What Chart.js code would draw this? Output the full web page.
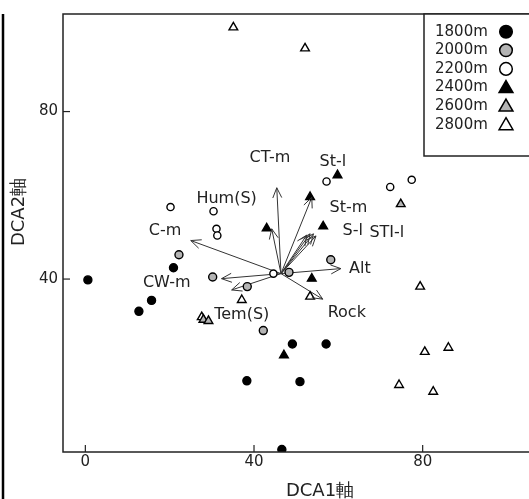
<!DOCTYPE html>
<html>
<head>
<meta charset="utf-8">
<script src="https://cdn.jsdelivr.net/npm/chart.js@4/dist/chart.umd.min.js"></script>
<style>
  body { margin: 0; overflow: hidden; background: #fff; }
  #wrap { width: 600px; height: 499px; }
</style>
</head>
<body>
<div id="wrap"><canvas id="dcaChart" width="600" height="499"></canvas></div>
<script>
// site scores, one pair of arrays per altitude class
var groups = ['1800m', '2000m', '2200m', '2400m', '2600m', '2800m'];
var x1800 = [0.6, 12.7, 15.7, 20.9, 38.3, 49.1, 57.1, 50.9, 46.6];
var y1800 = [39.8, 32.3, 34.9, 42.7, 15.7, 24.5, 24.5, 15.5, -0.7];
var x2000 = [22.2, 30.2, 38.4, 42.2, 48.3, 58.2];
var y2000 = [45.8, 40.5, 38.2, 27.7, 41.6, 44.6];
var x2200 = [20.2, 30.4, 31.1, 31.3, 44.6, 57.2, 72.3, 77.4];
var y2200 = [57.2, 56.2, 52.0, 50.4, 41.3, 63.3, 62.0, 63.7];
var x2400 = [43.0, 59.8, 53.3, 56.4, 53.7, 47.1];
var y2400 = [52.1, 64.8, 59.6, 52.6, 40.1, 21.8];
var x2600 = [28.0, 29.2, 74.8];
var y2600 = [30.3, 30.0, 57.9];
var x2800 = [35.1, 52.1, 53.3, 79.4, 80.5, 86.1, 74.4, 82.5, 27.6, 37.1];
var y2800 = [100.1, 95.1, 35.8, 38.2, 22.6, 23.6, 14.7, 13.1, 30.9, 35.0];

// environmental vectors (origin + tips)
var vecOrigin = [46.4, 41.3];
var vecTipX = [45.4, 44.2, 25.0, 32.3, 34.7, 53.7, 54.7, 54.1, 53.3, 52.5, 60.6, 56.3];
var vecTipY = [61.8, 52.0, 49.2, 40.1, 37.4, 59.5, 50.3, 50.8, 50.8, 50.5, 42.5, 35.2];

// vector labels
var labelText = ['CT-m', 'Hum(S)', 'C-m', 'CW-m', 'Tem(S)', 'St-l', 'St-m', 'S-l', 'STI-l', 'Alt', 'Rock'];
var labelX = [43.8, 33.5, 18.9, 19.3, 37.1, 58.7, 62.4, 63.4, 71.5, 65.1, 62.0];
var labelY = [68.9, 59.1, 51.4, 39.2, 31.5, 67.9, 56.9, 51.4, 51.0, 42.5, 31.9];

var xTicks = [0, 40, 80];
var yTicks = [40, 80];

var FONT = '"DejaVu Sans", Verdana, sans-serif';
var GREY = '#b4b4b4';

function pts(xs, ys) {
    return xs.map(function (v, i) { return { x: v, y: ys[i] }; });
}

var styles = [
    { pointStyle: 'circle', bg: '#000', r: 4 },
    { pointStyle: 'circle', bg: GREY, r: 4 },
    { pointStyle: 'circle', bg: '#fff', r: 3.6 },
    { pointStyle: 'triangle', bg: '#000', r: 5 },
    { pointStyle: 'triangle', bg: GREY, r: 5 },
    { pointStyle: 'triangle', bg: '#fff', r: 5 }
];
var series = [pts(x1800, y1800), pts(x2000, y2000), pts(x2200, y2200),
              pts(x2400, y2400), pts(x2600, y2600), pts(x2800, y2800)];

// arrow shafts as one line dataset with gaps
var arrowData = [];
vecTipX.forEach(function (tx, i) {
    arrowData.push({ x: vecOrigin[0], y: vecOrigin[1] });
    arrowData.push({ x: tx, y: vecTipY[i] });
    arrowData.push({ x: tx, y: null });
});

var datasets = [{
    label: 'vectors',
    data: arrowData,
    showLine: true,
    spanGaps: false,
    borderColor: '#333',
    borderWidth: 1,
    pointRadius: 0,
    order: 10
}];
groups.forEach(function (g, i) {
    datasets.push({
        label: g,
        data: series[i],
        pointStyle: styles[i].pointStyle,
        pointRadius: styles[i].r,
        pointBackgroundColor: styles[i].bg,
        pointBorderColor: '#000',
        pointBorderWidth: 1.4,
        order: 1
    });
});

var decorPlugin = {
    id: 'decor',
    afterDatasetsDraw: function (chart) {
        var ctx = chart.ctx;
        var xs = chart.scales.x, ys = chart.scales.y;
        var a = chart.chartArea;
        ctx.save();

        // arrow heads
        var ox = xs.getPixelForValue(vecOrigin[0]), oy = ys.getPixelForValue(vecOrigin[1]);
        ctx.strokeStyle = '#333';
        ctx.lineWidth = 1;
        vecTipX.forEach(function (tx, i) {
            var px = xs.getPixelForValue(tx), py = ys.getPixelForValue(vecTipY[i]);
            var ang = Math.atan2(py - oy, px - ox);
            var len = 11, spread = 0.42;
            ctx.beginPath();
            ctx.moveTo(px - len * Math.cos(ang - spread), py - len * Math.sin(ang - spread));
            ctx.lineTo(px, py);
            ctx.lineTo(px - len * Math.cos(ang + spread), py - len * Math.sin(ang + spread));
            ctx.stroke();
        });

        // vector labels
        ctx.fillStyle = '#222';
        ctx.font = '16px ' + FONT;
        ctx.textAlign = 'center';
        ctx.textBaseline = 'middle';
        labelText.forEach(function (t, i) {
            ctx.fillText(t, xs.getPixelForValue(labelX[i]), ys.getPixelForValue(labelY[i]));
        });

        // frame
        ctx.strokeStyle = '#222';
        ctx.lineWidth = 1.5;
        ctx.strokeRect(a.left, a.top, a.right - a.left, a.bottom - a.top);

        // inward ticks
        ctx.lineWidth = 1.2;
        xTicks.forEach(function (v) {
            var p = xs.getPixelForValue(v);
            ctx.beginPath(); ctx.moveTo(p, a.bottom); ctx.lineTo(p, a.bottom - 7); ctx.stroke();
        });
        yTicks.forEach(function (v) {
            var p = ys.getPixelForValue(v);
            ctx.beginPath(); ctx.moveTo(a.left, p); ctx.lineTo(a.left + 7, p); ctx.stroke();
        });

        // stray left rule
        ctx.strokeStyle = '#000';
        ctx.lineWidth = 2.5;
        ctx.beginPath(); ctx.moveTo(3, a.top); ctx.lineTo(3, chart.height); ctx.stroke();

        // axis titles
        ctx.fillStyle = '#222';
        ctx.font = '18px ' + FONT;
        ctx.fillText('DCA1軸', (a.left + a.right) / 2, 491);
        ctx.save();
        ctx.translate(19, 212);
        ctx.rotate(-Math.PI / 2);
        ctx.fillText('DCA2軸', 0, 0);
        ctx.restore();

        // legend box
        ctx.fillStyle = '#fff';
        ctx.fillRect(424, a.top, 200, 142);
        ctx.strokeStyle = '#222';
        ctx.lineWidth = 1.5;
        ctx.strokeRect(424, a.top, 200, 142);
        ctx.font = '15px ' + FONT;
        ctx.textAlign = 'left';
        groups.forEach(function (g, i) {
            var yy = 31.7 + i * 18.6;
            ctx.fillStyle = '#222';
            ctx.fillText(g, 435, yy);
            var st = styles[i];
            ctx.fillStyle = st.bg;
            ctx.strokeStyle = '#000';
            ctx.lineWidth = 1.5;
            Chart.helpers.drawPoint(ctx, {
                pointStyle: st.pointStyle,
                radius: st.pointStyle === 'circle' ? 6.3 : 8,
                rotation: 0,
                borderWidth: 1.5
            }, 506, st.pointStyle === 'circle' ? yy : yy + 1);
        });
        ctx.restore();
    }
};

new Chart(document.getElementById('dcaChart'), {
    type: 'scatter',
    data: { datasets: datasets },
    options: {
        responsive: false,
        animation: false,
        devicePixelRatio: 1,
        layout: { padding: { left: 0, top: 10, right: 23, bottom: 0 } },
        plugins: { legend: { display: false }, tooltip: { enabled: false } },
        scales: {
            x: {
                type: 'linear',
                min: -5.3,
                max: 116.6,
                grid: { display: false, drawTicks: false },
                border: { display: false },
                afterBuildTicks: function (s) { s.ticks = xTicks.map(function (v) { return { value: v }; }); },
                afterFit: function (s) { s.height = 47; },
                ticks: { padding: 1, color: '#222', font: { family: FONT, size: 15 } }
            },
            y: {
                type: 'linear',
                min: -1.3,
                max: 103.3,
                grid: { display: false, drawTicks: false },
                border: { display: false },
                afterBuildTicks: function (s) { s.ticks = yTicks.map(function (v) { return { value: v }; }); },
                afterFit: function (s) { s.width = 63; },
                ticks: { padding: 5, color: '#222', font: { family: FONT, size: 15 } }
            }
        }
    },
    plugins: [decorPlugin]
});
</script>
</body>
</html>
